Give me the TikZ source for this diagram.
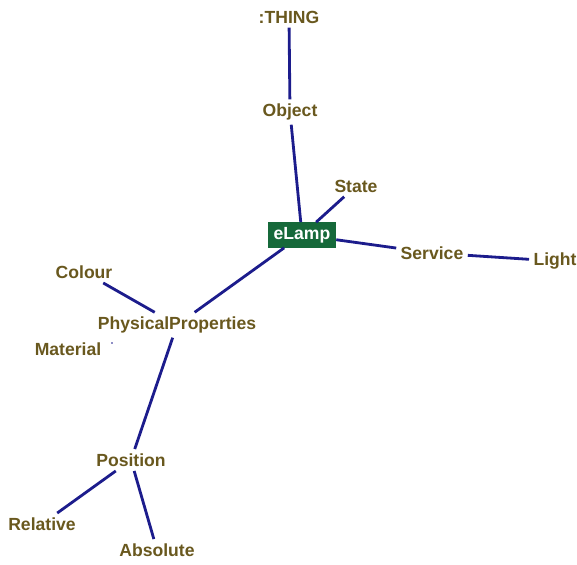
\documentclass[tikz,border=0pt]{standalone}
\usepackage{fontspec}
\setmainfont{Liberation Sans}
\usepackage{tikz}
\definecolor{conceptcol}{RGB}{105,88,30}
\definecolor{linkcol}{RGB}{28,28,140}
\definecolor{focuscol}{RGB}{22,105,58}

\begin{document}
\begin{tikzpicture}[x=0.025cm,y=-0.025cm,
  concept/.style={text=conceptcol,font=\fontsize{12.5}{14}\selectfont\bfseries,inner sep=3pt},
  link/.style={draw=linkcol,line width=2pt}]
\useasboundingbox (0,0) rectangle (577,564);
\node[concept] (thing) at (289,17) {:THING};
\node[concept] (object) at (290,112) {Object};
\node[concept] (state) at (356,186) {State};
\node[fill=focuscol,text=white,font=\fontsize{12.5}{14}\selectfont\bfseries,inner xsep=4pt,minimum height=15pt] (elamp) at (302,235) {eLamp};
\node[concept] (service) at (432,253) {Service};
\node[concept] (light) at (555,261) {Light};
\node[concept] (colour) at (84,272) {Colour};
\node[concept] (physprop) at (177,325) {PhysicalProperties};
\node[concept] (material) at (68,349) {Material};
\node[concept] (position) at (131,460) {Position};
\node[concept] (relative) at (42,524) {Relative};
\node[concept] (absolute) at (157,550) {Absolute};
\draw[link] (thing) -- (object);
\draw[link] (object) -- (elamp);
\draw[link] (state) -- (elamp);
\draw[link] (elamp) -- (service);
\draw[link] (service) -- (light);
\draw[link] (elamp) -- (physprop);
\draw[link] (colour) -- (physprop);
\draw[link] (physprop) -- (position);
\draw[link] (position) -- (relative);
\draw[link] (position) -- (absolute);
\fill[linkcol] (112,343) circle [radius=0.8];
\end{tikzpicture}
\end{document}
